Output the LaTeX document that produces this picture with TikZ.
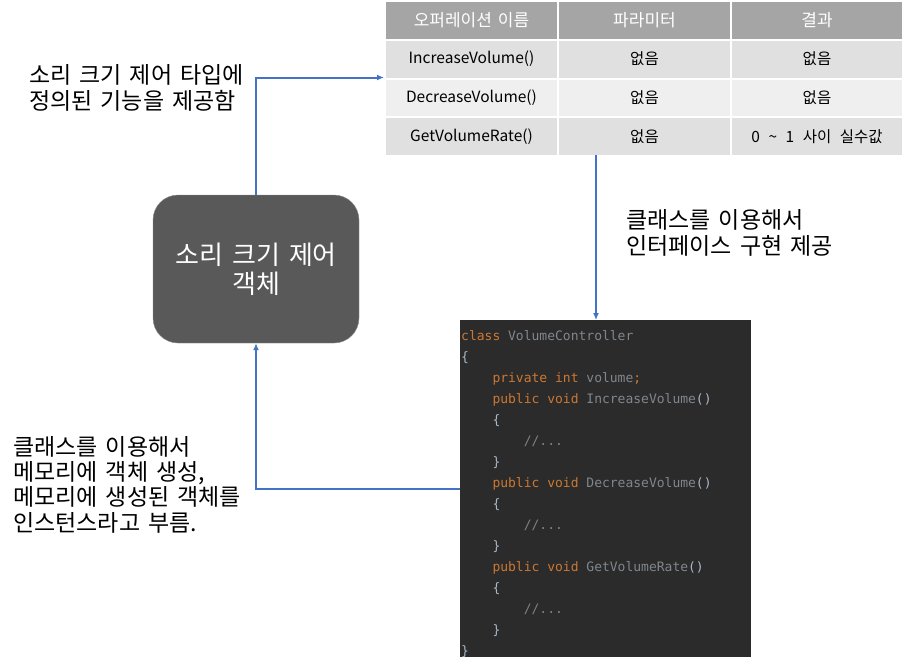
\documentclass[tikz,border=0pt]{standalone}
\usepackage{fontspec}
\setmainfont{Noto Sans CJK KR}
\setmonofont{DejaVu Sans Mono}
\usepackage{tikz}
\usetikzlibrary{positioning, calc, arrows.meta}
\definecolor{myblue}{RGB}{68,114,196}
\definecolor{hdrgray}{RGB}{165,165,165}
\definecolor{rowgray}{RGB}{224,224,224}
\definecolor{rowlight}{RGB}{239,239,239}
\definecolor{objgray}{RGB}{89,89,89}
\definecolor{codebg}{RGB}{43,43,43}
\definecolor{kwcol}{RGB}{204,120,50}
\definecolor{idcol}{RGB}{169,183,198}
\definecolor{fncol}{RGB}{128,134,140}
\definecolor{cmtcol}{RGB}{128,128,128}
\newcommand{\widesp}[1]{\spaceskip #1em\relax}
\tikzset{
	cell/.style={
		draw=white,
		line width=2pt,
		anchor=north west,
		inner sep=0pt,
		minimum width=173pt,
		minimum height=38.75pt,
		font={\fontsize{15.5}{18}\selectfont\widesp{0.55}}
	},
	hdr/.style={cell, fill=hdrgray, text=white, font={\fontsize{17}{19}\selectfont\widesp{0.35}}},
	rowa/.style={cell, fill=rowgray},
	rowb/.style={cell, fill=rowlight},
	note/.style={
		anchor=north west,
		inner sep=0pt,
		align=left,
		font={\fontsize{23}{26}\selectfont\widesp{0.35}}
	}
}
\newcommand{\codeind}{\hspace*{31.3pt}}

\begin{document}
\begin{tikzpicture}[x=1pt, y=-1pt]
	\tikzset{edge/.style={-{Latex[length=7pt,width=6pt]}, myblue, line width=2pt}}
	\useasboundingbox (0,0) rectangle (908,657);
	
	% operation table
	\node(h1) at (384,0) [hdr] {오퍼레이션 이름};
	\node(h2) at (557,0) [hdr] {파라미터};
	\node(h3) at (730,0) [hdr, minimum width=172pt] {결과};
	
	\node(r1c1) at (384,38.75) [rowa] {IncreaseVolume()};
	\node(r1c2) at (557,38.75) [rowa] {없음};
	\node(r1c3) at (730,38.75) [rowa, minimum width=172pt] {없음};
	
	\node(r2c1) at (384,77.5) [rowb] {DecreaseVolume()};
	\node(r2c2) at (557,77.5) [rowb] {없음};
	\node(r2c3) at (730,77.5) [rowb, minimum width=172pt] {없음};
	
	\node(r3c1) at (384,116.25) [rowa] {GetVolumeRate()};
	\node(r3c2) at (557,116.25) [rowa] {없음};
	\node(r3c3) at (730,116.25) [rowa, minimum width=172pt] {0 \textasciitilde{} 1 사이 실수값};
	
	% object
	\node(obj) at (256,269) [fill=objgray, draw=black!45, rounded corners=25pt, minimum width=206pt, minimum height=148pt, align=center, text=white, font={\fontsize{26}{29}\selectfont\widesp{0.35}}] {소리 크기 제어\\객체};
	
	% class code
	\node(code) at (460,320) [anchor=north west, fill=codebg, minimum width=291pt, minimum height=337pt, inner sep=0pt] {};
	\node(codetxt) at (461,330) [anchor=north west, inner sep=0pt, align=left, font=\ttfamily\fontsize{13}{21}\selectfont] {%
		\textcolor{kwcol}{class} \textcolor{fncol}{VolumeController}\\
		\textcolor{idcol}{\{}\\
		\codeind\textcolor{kwcol}{private int} \textcolor{fncol}{volume}\textcolor{kwcol}{;}\\
		\codeind\textcolor{kwcol}{public void} \textcolor{fncol}{IncreaseVolume}\textcolor{idcol}{()}\\
		\codeind\textcolor{idcol}{\{}\\
		\codeind\codeind\textcolor{cmtcol}{//...}\\
		\codeind\textcolor{idcol}{\}}\\
		\codeind\textcolor{kwcol}{public void} \textcolor{fncol}{DecreaseVolume}\textcolor{idcol}{()}\\
		\codeind\textcolor{idcol}{\{}\\
		\codeind\codeind\textcolor{cmtcol}{//...}\\
		\codeind\textcolor{idcol}{\}}\\
		\codeind\textcolor{kwcol}{public void} \textcolor{fncol}{GetVolumeRate}\textcolor{idcol}{()}\\
		\codeind\textcolor{idcol}{\{}\\
		\codeind\codeind\textcolor{cmtcol}{//...}\\
		\codeind\textcolor{idcol}{\}}\\
		\textcolor{idcol}{\}}};
	
	% notes
	\node(noteType) at (29,64) [note] {소리 크기 제어 타입에\\정의된 기능을 제공함};
	\node(noteImpl) at (626,209) [note] {클래스를 이용해서\\인터페이스 구현 제공};
	\node(noteInst) at (13,436) [note, font={\fontsize{23}{25.3}\selectfont\widesp{0.35}}] {클래스를 이용해서\\메모리에 객체 생성,\\메모리에 생성된 객체를\\인스턴스라고 부름.};
	
	\coordinate(implTop) at (596,155);
	\coordinate(instOut) at (460,489);
	\draw[edge](obj.north) |- (r2c1.north west);
	\draw[edge](implTop) -- (implTop |- code.north);
	\draw[edge](instOut) -| (obj.south);
	
\end{tikzpicture}
\end{document}
